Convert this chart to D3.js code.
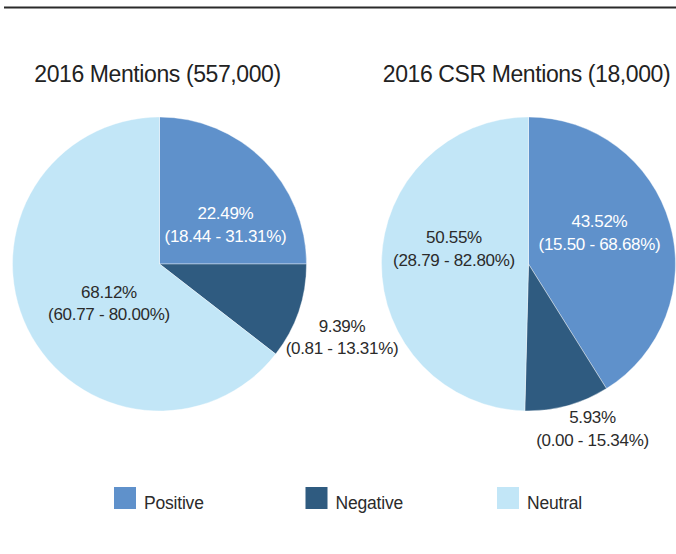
<!DOCTYPE html>
<html>
<head>
<meta charset="utf-8">
<script src="https://cdn.jsdelivr.net/npm/d3@7"></script>
<style>
  body { margin: 0; background: #fff; }
  svg { display: block; font-family: "Liberation Sans", Arial, sans-serif; }
</style>
</head>
<body>
<svg id="chart" width="676" height="554"></svg>
<script>
// categories and colours
var categories = ["Positive", "Negative", "Neutral"];
var colors = ["#5f91cb", "#2f5b80", "#c2e6f7"];

// chart titles
var titles = ["2016 Mentions (557,000)", "2016 CSR Mentions (18,000)"];

// slice shares as drawn in the picture (percent of the circle)
var mentionsShare = [25.0, 10.5, 64.5];
var csrShare = [41.1, 9.3, 49.6];

// printed labels
var mentionsValue = ["22.49%", "9.39%", "68.12%"];
var mentionsRange = ["(18.44 - 31.31%)", "(0.81 - 13.31%)", "(60.77 - 80.00%)"];
var csrValue = ["43.52%", "5.93%", "50.55%"];
var csrRange = ["(15.50 - 68.68%)", "(0.00 - 15.34%)", "(28.79 - 82.80%)"];

var svg = d3.select("#chart");
var radius = 147;

// top rule
svg.append("line")
  .attr("x1", 4).attr("x2", 676)
  .attr("y1", 7.5).attr("y2", 7.5)
  .attr("stroke", "#2a2a2a")
  .attr("stroke-width", 2);

var pies = [
  { title: titles[0], share: mentionsShare, value: mentionsValue, range: mentionsRange,
    cx: 159.5, cy: 264,
    // label offsets from the pie centre, one per category
    offs: [[66, -45], [182.5, 67.7], [-50.5, 33.7]] },
  { title: titles[1], share: csrShare, value: csrValue, range: csrRange,
    cx: 528.5, cy: 264,
    offs: [[71, -36.7], [64, 159.3], [-74.5, -20.7]] }
];

var color = d3.scaleOrdinal().domain(categories).range(colors);
var pie = d3.pie().sort(null).value(function(d){ return d.v; });
var arc = d3.arc().innerRadius(0).outerRadius(radius);

pies.forEach(function(p){
  var g = svg.append("g").attr("transform", "translate(" + p.cx + "," + p.cy + ")");

  svg.append("text")
    .attr("x", p.cx - 2)
    .attr("y", 82)
    .attr("text-anchor", "middle")
    .attr("font-size", 23)
    .attr("letter-spacing", -0.4)
    .attr("fill", "#222")
    .text(p.title);

  var rows = categories.map(function(c, i){
    return { cat: c, v: p.share[i], value: p.value[i], range: p.range[i], off: p.offs[i] };
  });

  g.selectAll("path")
    .data(pie(rows))
    .enter()
    .append("path")
    .attr("d", arc)
    .attr("fill", function(d){ return color(d.data.cat); })
    .attr("stroke", "#fff")
    .attr("stroke-width", 0.4);

  var lab = g.selectAll("g.lab")
    .data(rows)
    .enter()
    .append("text")
    .attr("text-anchor", "middle")
    .attr("font-size", 17)
    .attr("letter-spacing", -0.3)
    .attr("fill", function(d){ return d.cat === "Positive" ? "#fff" : "#2b2b2b"; });

  lab.append("tspan")
    .attr("x", function(d){ return d.off[0]; })
    .attr("y", function(d){ return d.off[1]; })
    .text(function(d){ return d.value; });
  lab.append("tspan")
    .attr("x", function(d){ return d.off[0]; })
    .attr("y", function(d){ return d.off[1] + 22.5; })
    .text(function(d){ return d.range; });
});

// legend
var legendX = d3.scalePoint().domain(categories).range([114, 497]);
var leg = svg.selectAll("g.legend")
  .data(categories)
  .enter()
  .append("g")
  .attr("transform", function(d){ return "translate(" + legendX(d) + ",487)"; });

leg.append("rect")
  .attr("width", 22).attr("height", 22)
  .attr("fill", function(d){ return color(d); });

leg.append("text")
  .attr("x", 30)
  .attr("y", 21.5)
  .attr("font-size", 17.5)
  .attr("letter-spacing", -0.2)
  .attr("fill", "#2b2b2b")
  .text(function(d){ return d; });
</script>
</body>
</html>
